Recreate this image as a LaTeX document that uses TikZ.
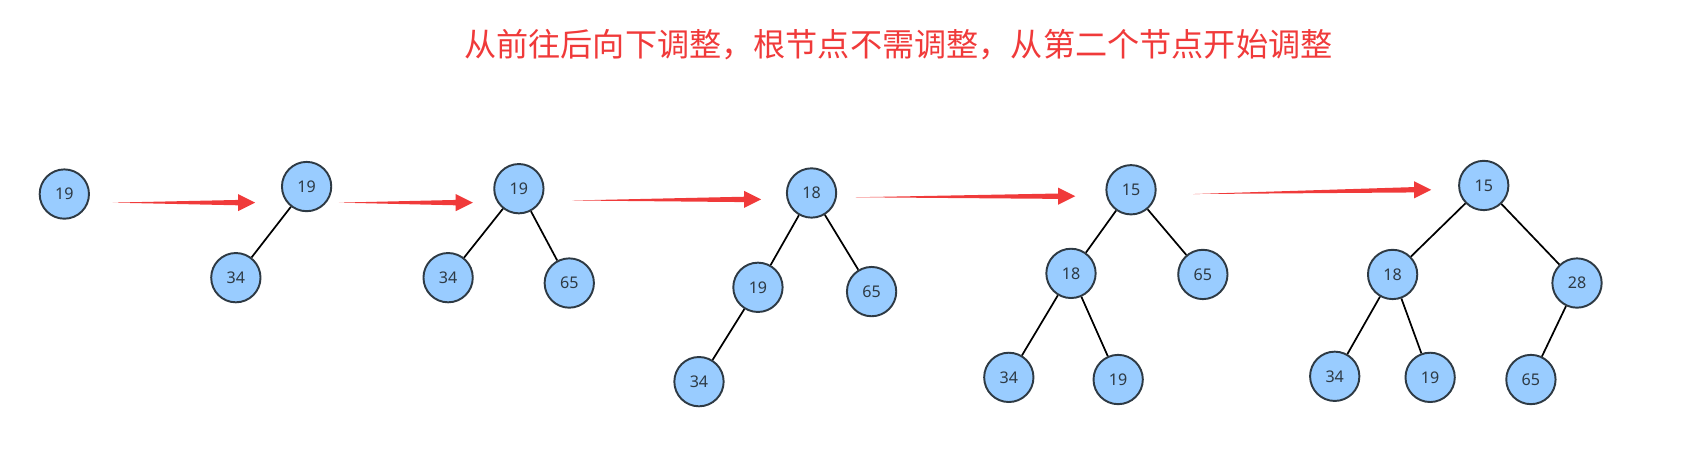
\documentclass[tikz,border=0pt]{standalone}
\usepackage{fontspec}
\setmainfont{Noto Sans}
\newfontfamily\cjk{Noto Sans CJK SC}
\definecolor{nodefill}{HTML}{99CCFF}
\definecolor{nodeedge}{HTML}{2E3A44}
\definecolor{arr}{HTML}{F03A3A}
\begin{document}
\begin{tikzpicture}[x=1pt,y=-1pt,
  nd/.style={circle,draw=nodeedge,line width=1.8pt,fill=nodefill,minimum size=46pt,inner sep=0pt,font=\fontsize{15}{15}\selectfont\bfseries,text=nodeedge},
  ed/.style={line width=1.6pt,black},
  redarr/.style={fill=arr}]
\useasboundingbox (0,0) rectangle (1568,429);
\node[font=\cjk\fontsize{30}{30}\selectfont,text=arr] (title) at (838,42) {从前往后向下调整，根节点不需调整，从第二个节点开始调整};
% tree 1
\node[nd] (a1) at (60,181) {19};
% tree 2
\node[nd] (b1) at (286,174) {19};
\node[nd] (b2) at (220,259) {34};
\draw[ed] (b1) -- (b2);
% tree 3
\node[nd] (c1) at (484,176) {19};
\node[nd] (c2) at (418,259) {34};
\node[nd] (c3) at (531,264) {65};
\draw[ed] (c1) -- (c2); \draw[ed] (c1) -- (c3);
% tree 4
\node[nd] (d1) at (757,180) {18};
\node[nd] (d2) at (707,268) {19};
\node[nd] (d3) at (813,272) {65};
\node[nd] (d4) at (652,356) {34};
\draw[ed] (d1) -- (d2); \draw[ed] (d1) -- (d3); \draw[ed] (d2) -- (d4);
% tree 5
\node[nd] (e1) at (1055,177) {15};
\node[nd] (e2) at (999,255) {18};
\node[nd] (e3) at (1122,256) {65};
\node[nd] (e4) at (941,352) {34};
\node[nd] (e5) at (1043,354) {19};
\draw[ed] (e1) -- (e2); \draw[ed] (e1) -- (e3); \draw[ed] (e2) -- (e4); \draw[ed] (e2) -- (e5);
% tree 6
\node[nd] (f1) at (1384,173) {15};
\node[nd] (f2) at (1299,256) {18};
\node[nd] (f3) at (1471,264) {28};
\node[nd] (f4) at (1245,351) {34};
\node[nd] (f5) at (1334,352) {19};
\node[nd] (f6) at (1428,354) {65};
\draw[ed] (f1) -- (f2); \draw[ed] (f1) -- (f3); \draw[ed] (f2) -- (f4); \draw[ed] (f2) -- (f5); \draw[ed] (f3) -- (f6);
% arrows
\fill[redarr] (105,189) -- (222,186.5) -- (222,181) -- (238,189) -- (222,197) -- (222,191.5) -- cycle;
\fill[redarr] (316,189) -- (425,186.5) -- (425,181) -- (441,189) -- (425,197) -- (425,191.5) -- cycle;
\fill[redarr] (534,187) -- (694,183.5) -- (694,178) -- (710,186) -- (694,194) -- (694,188.5) -- cycle;
\fill[redarr] (798,184) -- (987,180.5) -- (987,175) -- (1003,183) -- (987,191) -- (987,185.5) -- cycle;
\fill[redarr] (1113,181) -- (1319,174.5) -- (1319,169) -- (1335,177) -- (1319,185) -- (1319,179.5) -- cycle;
\end{tikzpicture}
\end{document}
